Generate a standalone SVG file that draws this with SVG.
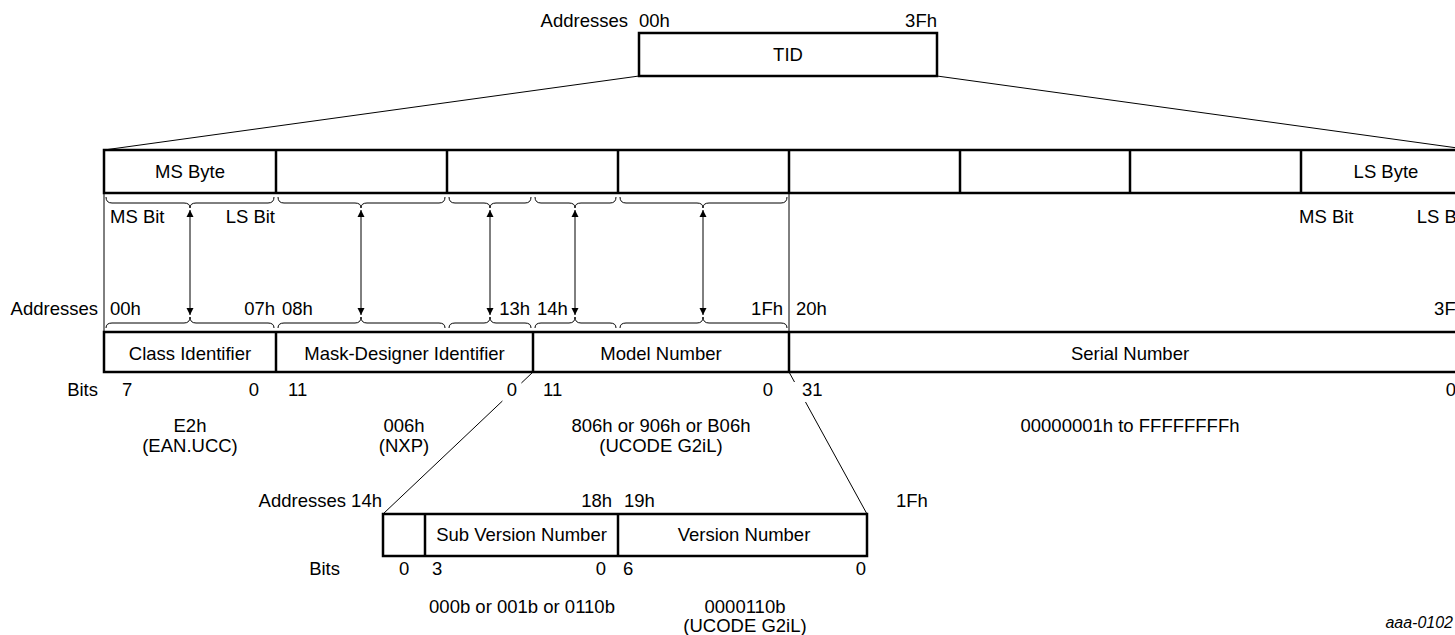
<svg xmlns="http://www.w3.org/2000/svg" width="1455" height="635" viewBox="0 0 1455 635">
<style>
text{font-family:"Liberation Sans",Arial,sans-serif;font-size:18.5px;fill:#000}
.m{text-anchor:middle}.e{text-anchor:end}
.box{fill:#fff;stroke:#000;stroke-width:2.5}
.div{stroke:#000;stroke-width:2.5}
.thin{fill:none;stroke:#000;stroke-width:1}
.arr{stroke:#000;stroke-width:1;marker-start:url(#ah);marker-end:url(#ah)}
.tag{font-size:16px;font-style:italic}
</style>
<defs>
<marker id="ah" viewBox="0 0 10 10" refX="10" refY="5" markerWidth="7" markerHeight="10" markerUnits="userSpaceOnUse" orient="auto-start-reverse">
<path d="M0,0 L10,5 L0,10 Z" fill="#000"/>
</marker>
</defs>
<rect width="1455" height="635" fill="#fff"/>

<g id="connectors">
<line class="thin" x1="639" y1="76" x2="104" y2="150"/>
<line class="thin" x1="937" y1="76" x2="1472" y2="150"/>
<line class="thin" x1="104" y1="193" x2="104" y2="332"/>
<line class="thin" x1="789" y1="193" x2="789" y2="332"/>
<path class="thin" d="M106,197 Q106,203 112,203 L184,203 Q190,203 190,208 Q190,203 196,203 L268,203 Q274,203 274,197"/>
<path class="thin" d="M278,197 Q278,203 284,203 L355,203 Q361,203 361,208 Q361,203 367,203 L439,203 Q445,203 445,197"/>
<path class="thin" d="M449,197 Q449,203 455,203 L484,203 Q490,203 490,208 Q490,203 496,203 L525,203 Q531,203 531,197"/>
<path class="thin" d="M535,197 Q535,203 541,203 L569,203 Q575,203 575,208 Q575,203 581,203 L610,203 Q616,203 616,197"/>
<path class="thin" d="M620,197 Q620,203 626,203 L697,203 Q703,203 703,208 Q703,203 709,203 L781,203 Q787,203 787,197"/>
<path class="thin" d="M106,328 Q106,323 112,323 L184,323 Q190,323 190,317 Q190,323 196,323 L268,323 Q274,323 274,328"/>
<path class="thin" d="M278,328 Q278,323 284,323 L355,323 Q361,323 361,317 Q361,323 367,323 L439,323 Q445,323 445,328"/>
<path class="thin" d="M449,328 Q449,323 455,323 L484,323 Q490,323 490,317 Q490,323 496,323 L525,323 Q531,323 531,328"/>
<path class="thin" d="M535,328 Q535,323 541,323 L569,323 Q575,323 575,317 Q575,323 581,323 L610,323 Q616,323 616,328"/>
<path class="thin" d="M620,328 Q620,323 626,323 L697,323 Q703,323 703,317 Q703,323 709,323 L781,323 Q787,323 787,328"/>
<line class="arr" x1="190" y1="210" x2="190" y2="315"/>
<line class="arr" x1="361" y1="210" x2="361" y2="315"/>
<line class="arr" x1="490" y1="210" x2="490" y2="315"/>
<line class="arr" x1="575" y1="210" x2="575" y2="315"/>
<line class="arr" x1="703" y1="210" x2="703" y2="315"/>
<line class="thin" x1="533" y1="372" x2="521.4" y2="383"/>
<line class="thin" x1="502.4" y1="401" x2="383" y2="514"/>
<line class="thin" x1="789" y1="372" x2="794.5" y2="382"/>
<line class="thin" x1="805.5" y1="402" x2="867" y2="514"/>
</g>

<g id="tid">
<text class="e" x="628" y="27">Addresses</text>
<text x="639" y="27">00h</text>
<text class="e" x="937" y="27">3Fh</text>
<rect class="box" x="639" y="33" width="298" height="43"/>
<text class="m" x="788" y="61">TID</text>
</g>

<g id="bytes">
<rect class="box" x="104" y="150" width="1368" height="43"/>
<line class="div" x1="276" y1="150" x2="276" y2="193"/>
<line class="div" x1="447" y1="150" x2="447" y2="193"/>
<line class="div" x1="618" y1="150" x2="618" y2="193"/>
<line class="div" x1="789" y1="150" x2="789" y2="193"/>
<line class="div" x1="960" y1="150" x2="960" y2="193"/>
<line class="div" x1="1130" y1="150" x2="1130" y2="193"/>
<line class="div" x1="1301" y1="150" x2="1301" y2="193"/>
<text class="m" x="190" y="178">MS Byte</text>
<text class="m" x="1386" y="178">LS Byte</text>
</g>

<g id="bit-labels">
<text x="110" y="223">MS Bit</text>
<text class="e" x="275" y="223">LS Bit</text>
<text x="1299" y="223">MS Bit</text>
<text class="e" x="1466" y="223">LS Bit</text>
<text class="e" x="98" y="315">Addresses</text>
<text x="110" y="315">00h</text>
<text class="e" x="275" y="315">07h</text>
<text x="282" y="315">08h</text>
<text class="e" x="530" y="315">13h</text>
<text x="537" y="315">14h</text>
<text class="e" x="783" y="315">1Fh</text>
<text x="796" y="315">20h</text>
<text class="e" x="1466" y="315">3Fh</text>
</g>

<g id="fields">
<rect class="box" x="104" y="332" width="1368" height="40"/>
<line class="div" x1="276" y1="332" x2="276" y2="372"/>
<line class="div" x1="533" y1="332" x2="533" y2="372"/>
<line class="div" x1="789" y1="332" x2="789" y2="372"/>
<text class="m" x="190" y="360">Class Identifier</text>
<text class="m" x="404.5" y="360">Mask-Designer Identifier</text>
<text class="m" x="661" y="360">Model Number</text>
<text class="m" x="1130" y="360">Serial Number</text>
</g>

<g id="field-bits">
<text class="e" x="98" y="396">Bits</text>
<text x="122" y="396">7</text>
<text class="e" x="259" y="396">0</text>
<text x="288" y="396">11</text>
<text class="e" x="517" y="396">0</text>
<text x="543" y="396">11</text>
<text class="e" x="773" y="396">0</text>
<text x="802" y="396">31</text>
<text class="e" x="1456" y="396">0</text>
<text class="m" x="190" y="432">E2h</text>
<text class="m" x="190" y="452">(EAN.UCC)</text>
<text class="m" x="404" y="432">006h</text>
<text class="m" x="404" y="452">(NXP)</text>
<text class="m" x="661" y="432">806h or 906h or B06h</text>
<text class="m" x="661" y="452">(UCODE G2iL)</text>
<text class="m" x="1130" y="432">00000001h to FFFFFFFFh</text>
</g>

<g id="model-detail">
<text class="e" x="382" y="507">Addresses 14h</text>
<text class="e" x="612" y="507">18h</text>
<text x="624" y="507">19h</text>
<text x="896" y="507">1Fh</text>
<rect class="box" x="383" y="514" width="484" height="42"/>
<line class="div" x1="425" y1="514" x2="425" y2="556"/>
<line class="div" x1="618" y1="514" x2="618" y2="556"/>
<text class="m" x="521.5" y="541">Sub Version Number</text>
<text class="m" x="744" y="541">Version Number</text>
<text class="e" x="340" y="575">Bits</text>
<text x="399" y="575">0</text>
<text x="432" y="575">3</text>
<text class="e" x="606" y="575">0</text>
<text x="623" y="575">6</text>
<text class="e" x="866" y="575">0</text>
<text class="m" x="522" y="613">000b or 001b or 0110b</text>
<text class="m" x="745" y="613">0000110b</text>
<text class="m" x="745" y="632">(UCODE G2iL)</text>
</g>

<text class="tag e" x="1453" y="628">aaa-0102</text>
</svg>
